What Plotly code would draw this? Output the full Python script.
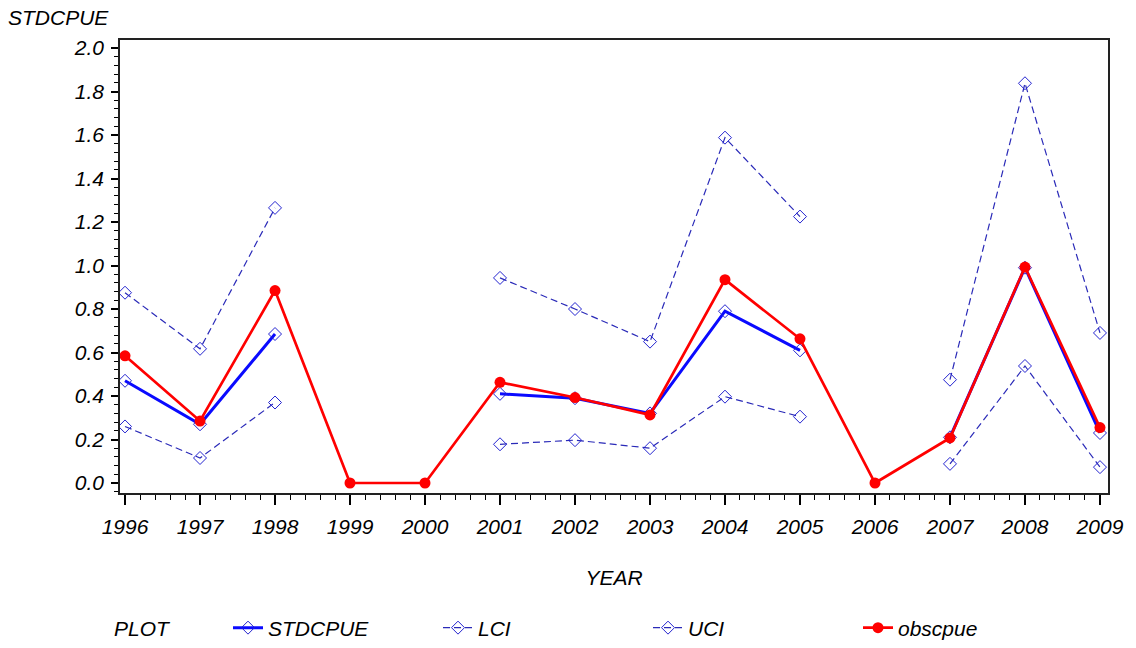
import plotly.graph_objects as go

years = [1996, 1997, 1998, 1999, 2000, 2001, 2002, 2003, 2004, 2005, 2006, 2007, 2008, 2009]
stdcpue = [0.47, 0.27, 0.685, None, None, 0.41, 0.39, 0.32, 0.79, 0.61, None, 0.21, 0.99, 0.23]
lci = [0.26, 0.115, 0.37, None, None, 0.178, 0.197, 0.16, 0.397, 0.305, None, 0.088, 0.538, 0.073]
uci = [0.875, 0.617, 1.265, None, None, 0.943, 0.8, 0.65, 1.588, 1.225, None, 0.475, 1.838, 0.69]
obscpue = [0.585, 0.285, 0.885, 0.0, 0.0, 0.463, 0.393, 0.313, 0.935, 0.663, 0.0, 0.207, 0.993, 0.255]

FONT = "Liberation Sans"
W, H = 1136, 648
ml, mr, mt, mb = 120, 28, 40, 155
pw, ph = W - ml - mr, H - mt - mb

fig = go.Figure()
fig.add_trace(go.Scatter(x=years, y=stdcpue, name="STDCPUE", mode="lines+markers",
                         line=dict(color="#0a0aff", width=3),
                         marker=dict(symbol="diamond-open", size=10, color="#2323d0", line=dict(width=1))))
fig.add_trace(go.Scatter(x=years, y=lci, name="LCI", mode="lines+markers",
                         line=dict(color="#2a2ab8", width=1.2, dash="7px,4px"),
                         marker=dict(symbol="diamond-open", size=10, color="#2323d0", line=dict(width=1))))
fig.add_trace(go.Scatter(x=years, y=uci, name="UCI", mode="lines+markers",
                         line=dict(color="#2a2ab8", width=1.2, dash="7px,4px"),
                         marker=dict(symbol="diamond-open", size=10, color="#2323d0", line=dict(width=1))))
fig.add_trace(go.Scatter(x=years, y=obscpue, name="obscpue", mode="lines+markers",
                         line=dict(color="#ff0000", width=2.7),
                         marker=dict(symbol="circle", size=11, color="#ff0000")))

italic = dict(family=FONT, size=21, color="black", style="italic")

fig.update_layout(
    width=W, height=H,
    margin=dict(l=ml, r=mr, t=mt, b=mb, autoexpand=False),
    paper_bgcolor="white", plot_bgcolor="white",
    font=italic,
    showlegend=True,
    legend=dict(orientation="h", x=(228 - ml) / pw, xanchor="left",
                y=(mt + ph - 628) / ph, yanchor="middle",
                font=italic, entrywidth=165, entrywidthmode="pixels",
                bgcolor="rgba(0,0,0,0)", traceorder="normal"),
    xaxis=dict(range=[1995.933, 2009.107], tickmode="array", tickvals=years,
               ticktext=[str(y) for y in years],
               ticks="outside", ticklen=10, tickwidth=1.5, tickcolor="black",
               minor=dict(dtick=0.2, tick0=1996, ticks="outside", ticklen=5, tickwidth=1, tickcolor="black"),
               showline=True, linecolor="#222222", linewidth=1.5, mirror=True,
               showgrid=False, zeroline=False, tickfont=italic,
               ticklabelstandoff=4,
               title=dict(text="YEAR", font=italic, standoff=33)),
    yaxis=dict(range=[-0.046, 2.037], tickmode="linear", tick0=0, dtick=0.2, tickformat=".1f",
               ticks="outside", ticklen=7, tickwidth=1.5, tickcolor="black",
               minor=dict(dtick=0.04, tick0=0, ticks="outside", ticklen=4, tickwidth=1, tickcolor="black"),
               showline=True, linecolor="#222222", linewidth=1.5, mirror=True,
               showgrid=False, zeroline=False, tickfont=italic, ticklabelstandoff=3),
    annotations=[
        dict(text="STDCPUE", xref="paper", yref="paper", x=(6 - ml) / pw, y=(mt + ph - 18) / ph,
             xanchor="left", yanchor="middle", showarrow=False, font=italic),
        dict(text="PLOT", xref="paper", yref="paper", x=(112 - ml) / pw, y=(mt + ph - 628) / ph,
             xanchor="left", yanchor="middle", showarrow=False, font=italic),
    ],
)

fig.write_html("out.html")
